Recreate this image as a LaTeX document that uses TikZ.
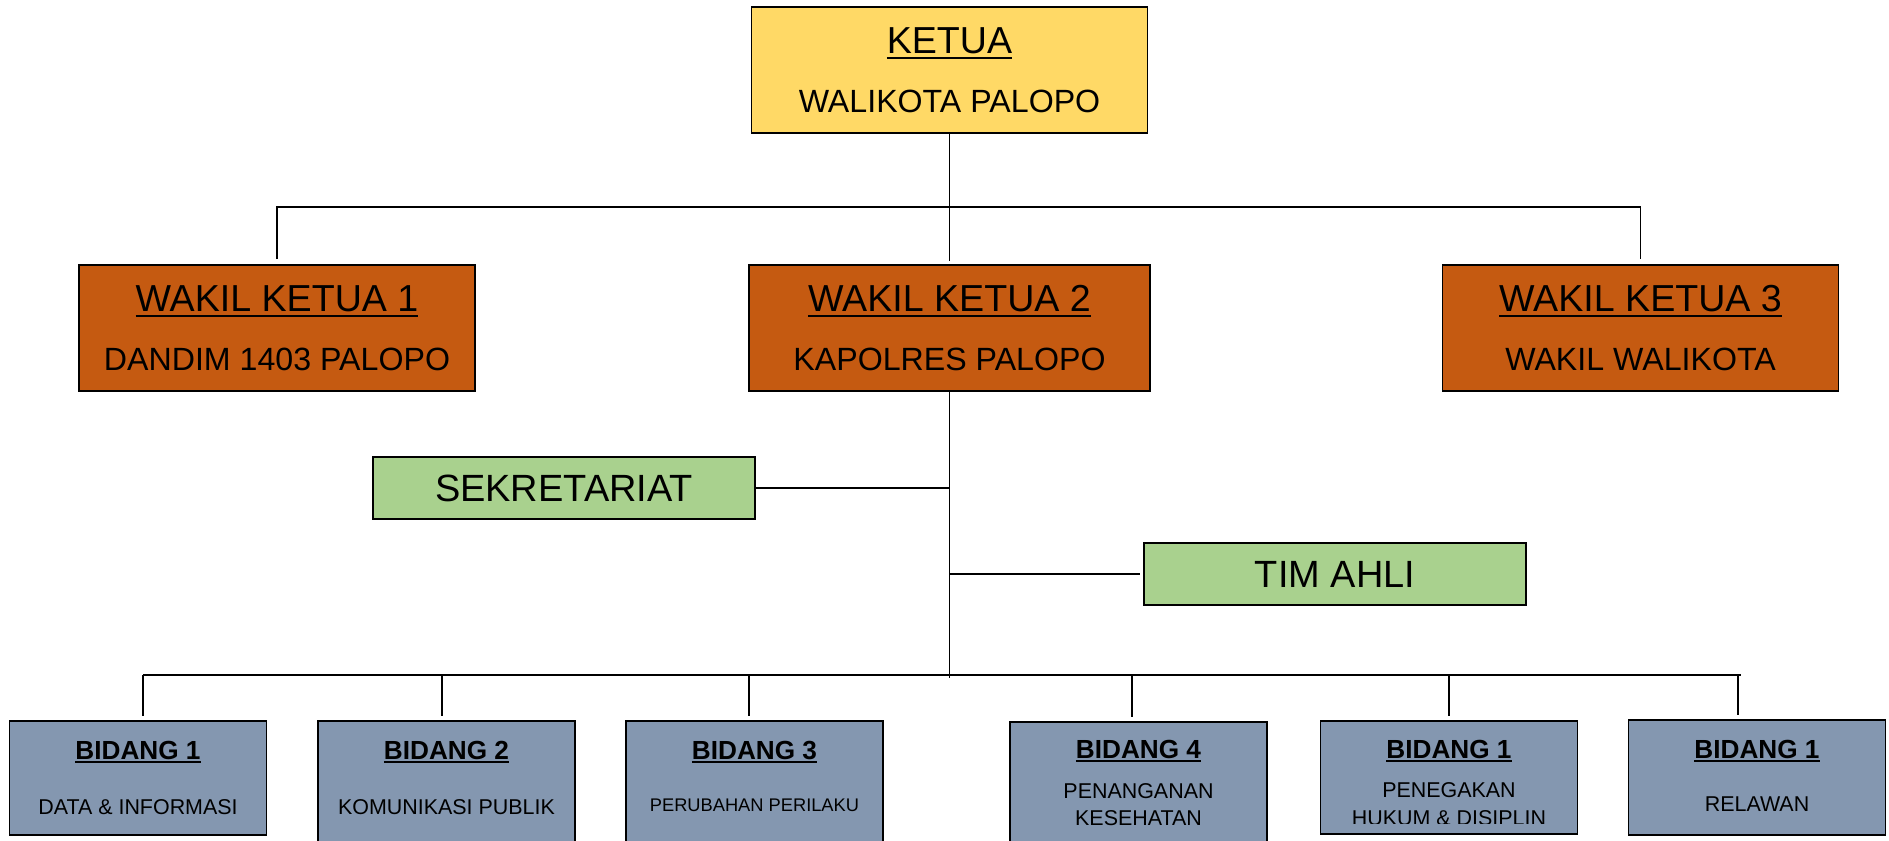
\documentclass[tikz,border=0pt]{standalone}
\usepackage{fontspec}
\setmainfont{Liberation Sans}
\usetikzlibrary{calc}
\definecolor{KetuaKuning}{RGB}{255,217,102}
\definecolor{WakilOranye}{RGB}{197,90,17}
\definecolor{SekHijau}{RGB}{169,209,142}
\definecolor{BidangAbu}{RGB}{132,151,176}
\newcommand{\garisbawah}[2][-3.5pt]{\setbox0=\hbox{#2}\rlap{\rule[#1]{\wd0}{1.5pt}}\box0}
\tikzset{
  kotak/.style={draw=black, line width=0.9pt, inner sep=0pt},
  ketuabox/.style={kotak, fill=KetuaKuning, minimum width=7.92cm, minimum height=2.52cm},
  wakilbox/.style={kotak, fill=WakilOranye, minimum width=7.92cm, minimum height=2.52cm},
  hijaubox/.style={kotak, fill=SekHijau, minimum width=7.64cm, minimum height=1.24cm,
                   font=\fontsize{21.6}{26}\selectfont},
  bidangbox/.style={kotak, fill=BidangAbu, minimum width=5.14cm, minimum height=2.28cm},
  judul/.style={anchor=base, inner sep=0pt, font=\fontsize{21.4}{26}\selectfont},
  subjudul/.style={anchor=base, inner sep=0pt, font=\fontsize{18.3}{22}\selectfont},
  jdlbidang/.style={anchor=base, inner sep=0pt, font=\bfseries\fontsize{14.9}{18}\selectfont},
  subbidang/.style={anchor=base, inner sep=0pt, font=\fontsize{12.2}{14}\selectfont},
  garis/.style={line width=1.1pt, black},
}

\begin{document}
\begin{tikzpicture}[x=0.02cm, y=-0.02cm]
  \useasboundingbox (0,0) rectangle (1889,840);
  \clip (0,0) rectangle (1889,840);

  % --- Ketua -------------------------------------------------------------
  \node[ketuabox] (ketua) at (949.5,70) {};
  \node[judul]    (ketua-jdl) at ($(ketua.north)+(0,47)$) {\garisbawah{KETUA}};
  \node[subjudul] (ketua-sub) at ($(ketua.north)+(0,106)$) {WALIKOTA PALOPO};

  % --- Wakil ketua -------------------------------------------------------
  \node[wakilbox] (wk1) at (277,328) {};
  \node[judul]    (wk1-jdl) at ($(wk1.north)+(0,47)$) {\garisbawah{WAKIL KETUA 1}};
  \node[subjudul] (wk1-sub) at ($(wk1.north)+(0,106)$) {DANDIM 1403 PALOPO};

  \node[wakilbox, minimum width=8.02cm] (wk2) at (949.5,328) {};
  \node[judul]    (wk2-jdl) at ($(wk2.north)+(0,47)$) {\garisbawah{WAKIL KETUA 2}};
  \node[subjudul] (wk2-sub) at ($(wk2.north)+(0,106)$) {KAPOLRES PALOPO};

  \node[wakilbox] (wk3) at (1640.5,328) {};
  \node[judul]    (wk3-jdl) at ($(wk3.north)+(0,47)$) {\garisbawah{WAKIL KETUA 3}};
  \node[subjudul] (wk3-sub) at ($(wk3.north)+(0,106)$) {WAKIL WALIKOTA};

  % --- Sekretariat dan tim ahli -----------------------------------------
  \node[hijaubox] (sek) at (564,488) {SEKRETARIAT};
  \node[hijaubox] (tim) at (1335,574) {TIM AHLI};

  % --- Bidang ------------------------------------------------------------
  \node[bidangbox] (b1) at (138,778) {};
  \node[jdlbidang] (b1-jdl) at ($(b1.north)+(0,39)$) {\garisbawah[-2.4pt]{BIDANG 1}};
  \node[subbidang] (b1-sub) at ($(b1.north)+(0,94)$) {DATA \& INFORMASI};

  \node[bidangbox, minimum height=2.8cm] (b2) at (446.5,791) {};
  \node[jdlbidang] (b2-jdl) at ($(b2.north)+(0,39)$) {\garisbawah[-2.4pt]{BIDANG 2}};
  \node[subbidang] (b2-sub) at ($(b2.north)+(0,94)$) {KOMUNIKASI PUBLIK};

  \node[bidangbox, minimum height=2.8cm] (b3) at (754.5,791) {};
  \node[jdlbidang] (b3-jdl) at ($(b3.north)+(0,39)$) {\garisbawah[-2.4pt]{BIDANG 3}};
  \node[subbidang, font=\fontsize{10.4}{12}\selectfont] (b3-sub) at ($(b3.north)+(0,91)$) {PERUBAHAN PERILAKU};

  \node[bidangbox, minimum height=2.8cm] (b4) at (1138.5,792) {};
  \node[jdlbidang] (b4-jdl) at ($(b4.north)+(0,37)$) {\garisbawah[-2.4pt]{BIDANG 4}};
  \node[subbidang] (b4-sub1) at ($(b4.north)+(0,77)$) {PENANGANAN};
  \node[subbidang] (b4-sub2) at ($(b4.north)+(0,104)$) {KESEHATAN};

  \node[bidangbox, minimum height=2.26cm] (b5) at (1449,777.5) {};
  \node[jdlbidang] (b5-jdl) at ($(b5.north)+(0,38)$) {\garisbawah[-2.4pt]{BIDANG 1}};
  \node[subbidang] (b5-sub1) at ($(b5.north)+(0,77)$) {PENEGAKAN};
  \begin{scope}
    \clip (1322,722) rectangle (1578,823);
    \node[subbidang] (b5-sub2) at ($(b5.north)+(0,105)$) {HUKUM \& DISIPLIN};
  \end{scope}

  \node[bidangbox, minimum height=2.3cm] (b6) at (1757,777.5) {};
  \node[jdlbidang] (b6-jdl) at ($(b6.north)+(0,39)$) {\garisbawah[-2.4pt]{BIDANG 1}};
  \node[subbidang] (b6-sub) at ($(b6.north)+(0,92)$) {RELAWAN};

  % --- Garis penghubung --------------------------------------------------
  \coordinate (simpul-atas) at (949.5,207);
  \coordinate (pusat) at (949.5,678);
  \draw[garis, shorten >=0.06cm] (ketua.south) -- (wk2.north);
  \draw[garis, shorten <=0.1cm, shorten >=0.1cm] (wk1.north) |- (simpul-atas) -| (wk3.north);
  \draw[garis] (wk2.south) -- (pusat);
  \draw[garis] (sek.east) -- (sek.east -| pusat);
  \draw[garis, shorten >=0.06cm] (tim.west -| pusat) -- (tim.west);

  % garis ke bidang
  \coordinate (bus-kiri) at (143,675);
  \coordinate (bus-kanan) at (1741,675);
  \draw[garis] (bus-kiri) -- (bus-kanan);
  \foreach \i/\x in {1/143,2/442,3/749,4/1132,5/1449,6/1738} {
    \coordinate (turun\i) at (\x,675);
    \draw[garis, shorten >=0.09cm] (turun\i) -- (turun\i |- b\i.north);
  }

\end{tikzpicture}
\end{document}
